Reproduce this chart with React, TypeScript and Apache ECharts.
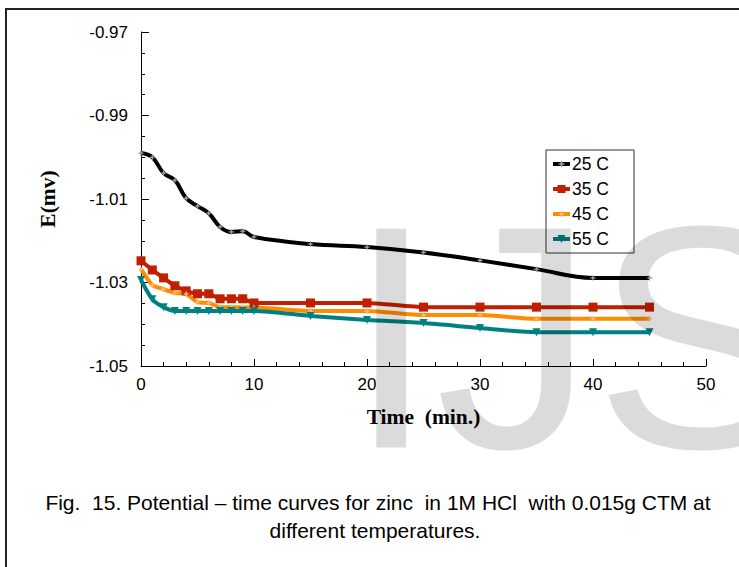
import React, { useEffect, useRef } from "react";
import * as echarts from "echarts";

const times = [0, 1, 2, 3, 4, 5, 6, 7, 8, 9, 10, 15, 20, 25, 30, 35, 40, 45];
const e25 = [-0.999, -1.0, -1.0038, -1.0055, -1.0098, -1.0117, -1.0134, -1.0167, -1.0179, -1.0177, -1.0191, -1.0208, -1.0215, -1.0228, -1.0247, -1.0268, -1.0289, -1.0289];
const e35 = [-1.0248, -1.027, -1.0289, -1.0308, -1.032, -1.0327, -1.0327, -1.0339, -1.0339, -1.0339, -1.0349, -1.0349, -1.0349, -1.0359, -1.0359, -1.0359, -1.0359, -1.0359];
const e45 = [-1.0268, -1.0306, -1.0316, -1.0325, -1.0327, -1.0347, -1.0349, -1.0359, -1.0359, -1.036, -1.036, -1.0368, -1.0368, -1.0378, -1.0378, -1.0387, -1.0387, -1.0387];
const e55 = [-1.0294, -1.034, -1.0359, -1.0368, -1.0368, -1.0368, -1.0368, -1.0368, -1.0368, -1.0368, -1.0368, -1.038, -1.039, -1.0397, -1.0409, -1.0419, -1.0419, -1.0419];
const seriesNames = ["25 C", "35 C", "45 C", "55 C"];
const xTicks = [0, 10, 20, 30, 40, 50];
const yTicks = [-1.05, -1.03, -1.01, -0.99, -0.97];

const STAR = "path://M0,-10 L2.5,-2.5 10,0 2.5,2.5 0,10 -2.5,2.5 -10,0 -2.5,-2.5 Z";

function pairs(ys: number[]) {
  return times.map((t, i) => [t, ys[i]]);
}

export default function App() {
  const ref = useRef<HTMLDivElement>(null);
  useEffect(() => {
    if (!ref.current) return;
    const chart = echarts.init(ref.current, null, { renderer: "svg" });
    const axisFont = { fontFamily: "Arial, 'Liberation Sans'", fontSize: 17, color: "#000" };
    const mk = (name: string, data: number[], color: string, symbol: string, size: number, symColor: string, smooth: number) => ({
      name,
      type: "line",
      data: pairs(data),
      smooth,
      symbol,
      symbolSize: size,
      showSymbol: true,
      lineStyle: { color, width: 4 },
      itemStyle: { color: symColor },
      emphasis: { disabled: true },
    });
    chart.setOption({
      animation: false,
      backgroundColor: "#fff",
      grid: { left: 141, right: 33, top: 32, bottom: 201, containLabel: false },
      xAxis: {
        type: "value",
        min: xTicks[0],
        max: xTicks[xTicks.length - 1],
        interval: 10,
        name: "Time  (min.)",
        nameLocation: "middle",
        nameGap: 40,
        nameTextStyle: { fontFamily: "'Liberation Serif', 'Times New Roman', serif", fontWeight: "bold", fontSize: 21.5, color: "#000" },
        axisLine: { lineStyle: { color: "#000", width: 1 } },
        axisTick: { inside: true, length: 7, lineStyle: { color: "#000" } },
        minorTick: { show: true, splitNumber: 5, length: 4, lineStyle: { color: "#000" } },
        splitLine: { show: false },
        axisLabel: { ...axisFont, margin: 10 },
      },
      yAxis: {
        type: "value",
        min: yTicks[0],
        max: yTicks[yTicks.length - 1],
        interval: 0.02,
        name: "E(mv)",
        nameLocation: "middle",
        nameGap: 82,
        nameTextStyle: { fontFamily: "'Liberation Serif', 'Times New Roman', serif", fontWeight: "bold", fontSize: 21.5, color: "#000" },
        axisLine: { show: true, lineStyle: { color: "#000", width: 1 } },
        axisTick: { show: true, inside: true, length: 8, lineStyle: { color: "#000" } },
        minorTick: { show: true, splitNumber: 4, length: 4, lineStyle: { color: "#000" } },
        splitLine: { show: false },
        axisLabel: { ...axisFont, margin: 13, formatter: (v: number) => v.toFixed(2) },
      },
      legend: {
        show: true,
        orient: "vertical",
        left: 546,
        top: 150,
        padding: [4, 0, 4, 5],
        itemGap: 5,
        itemWidth: 17,
        itemHeight: 10,
        data: seriesNames,
        lineStyle: { width: 4 },
        textStyle: { fontFamily: "Arial, 'Liberation Sans'", fontSize: 17.5, color: "#000", lineHeight: 20, padding: [0, 0, 0, -3] },
      },
      series: [
        mk(seriesNames[0], e25, "#000", STAR, 7, "#999", 0.4),
        mk(seriesNames[1], e35, "#C02000", "rect", 9, "#C02000", 0.15),
        mk(seriesNames[2], e45, "#FF8C00", STAR, 7, "#FFB870", 0.2),
        mk(seriesNames[3], e55, "#008080", "triangle", 8, "#008080", 0.25),
      ].map((s, i) => (i === 3 ? { ...s, symbolRotate: 180 } : s)),
      graphic: [
        {
          type: "rect",
          shape: { x: 6, y: 9, width: 900, height: 800 },
          style: { fill: "none", stroke: "#222", lineWidth: 2 },
          silent: true,
          z: 1,
        },
        {
          type: "rect",
          shape: { x: 546, y: 150, width: 88, height: 103 },
          style: { fill: "none", stroke: "#333", lineWidth: 1 },
          silent: true,
          z: 5,
        },
        {
          type: "text",
          x: 378,
          y: 502,
          style: {
            text: "Fig.  15. Potential – time curves for zinc  in 1M HCl  with 0.015g CTM at",
            font: "21px Arial, 'Liberation Sans'",
            fill: "#000",
            align: "center",
            verticalAlign: "middle",
          },
          z: 5,
        },
        {
          type: "text",
          x: 375,
          y: 530,
          style: {
            text: "different temperatures.",
            font: "21px Arial, 'Liberation Sans'",
            fill: "#000",
            align: "center",
            verticalAlign: "middle",
          },
          z: 5,
        },
        {
          type: "text",
          x: 347,
          y: 337,
          style: {
            text: "IJS",
            font: "318px 'Liberation Sans', Arial",
            fill: "rgba(0,0,0,0.14)",
            align: "left",
            verticalAlign: "middle",
          },
          silent: true,
          z: 100,
        },
      ],
    });
    return () => chart.dispose();
  }, []);
  return <div ref={ref} style={{ position: "fixed", left: 0, top: 0, width: 739, height: 567 }} />;
}
